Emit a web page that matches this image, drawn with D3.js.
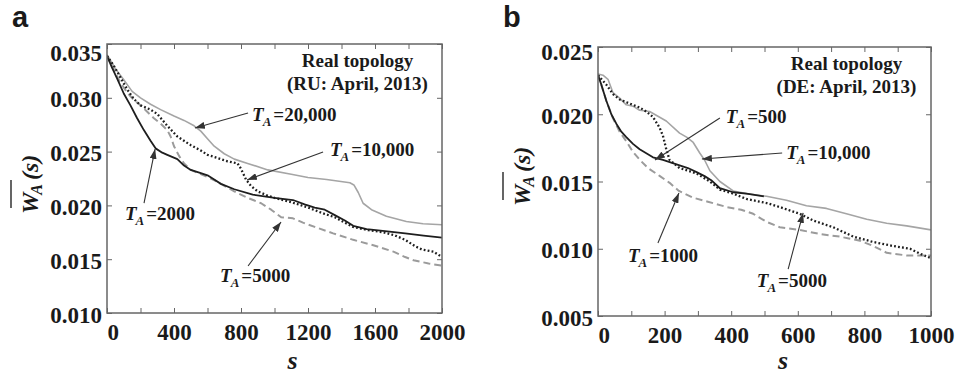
<!DOCTYPE html>
<html>
<head>
<meta charset="utf-8">
<script src="https://cdn.jsdelivr.net/npm/d3@7"></script>
<style>
  body { margin: 0; background: #fff; }
  svg { display: block; }
  text { font-family: "Liberation Serif", "Times New Roman", serif; font-weight: bold; fill: #1a1a1a; }
  text.letter { font-family: "Liberation Sans", Arial, sans-serif; }
</style>
</head>
<body>
<div id="chart"></div>
<script>
// ---- panel a : RU, April 2013 ----
const ruXLabels = [0, 400, 800, 1200, 1600, 2000];
const ruYTicks = [0.010, 0.015, 0.020, 0.025, 0.030, 0.035];

const ru2000 = [[0,0.0339],[30,0.0328],[60,0.0318],[100,0.0304],[140,0.0293],[180,0.0281],[220,0.0270],[260,0.0260],[290,0.0253],[330,0.0249],[360,0.0247],[420,0.0243],[460,0.0237],[500,0.0233],[560,0.0230],[600,0.0228],[640,0.0224],[680,0.0220],[760,0.0215],[870,0.0210],[1000,0.0207],[1110,0.0205],[1180,0.0201],[1240,0.0198],[1300,0.0196],[1360,0.0191],[1420,0.0186],[1470,0.0181],[1550,0.0178],[1660,0.0176],[1780,0.0174],[1890,0.0172],[2000,0.0170]];
const ru5000 = [[0,0.0339],[40,0.0326],[80,0.0314],[120,0.0305],[160,0.0298],[200,0.0293],[240,0.0287],[280,0.0281],[320,0.0276],[360,0.0270],[380,0.0264],[400,0.0255],[430,0.0246],[460,0.0239],[500,0.0233],[560,0.0229],[620,0.0225],[680,0.0220],[760,0.0213],[840,0.0207],[920,0.0202],[980,0.0196],[1040,0.0189],[1110,0.0188],[1170,0.0184],[1240,0.0180],[1350,0.0174],[1470,0.0168],[1590,0.0163],[1710,0.0157],[1780,0.0152],[1830,0.0149],[1920,0.0146],[2000,0.0144]];
const ru10000 = [[0,0.0339],[40,0.0330],[80,0.0319],[120,0.0308],[160,0.0299],[200,0.0293],[260,0.0289],[300,0.0285],[360,0.0274],[420,0.0264],[460,0.0260],[500,0.0256],[560,0.0251],[600,0.0247],[660,0.0244],[720,0.0241],[780,0.0239],[800,0.0234],[830,0.0224],[860,0.0218],[900,0.0213],[960,0.0209],[1000,0.0207],[1100,0.0203],[1200,0.0198],[1300,0.0192],[1360,0.0189],[1420,0.0184],[1470,0.0180],[1560,0.0177],[1650,0.0175],[1720,0.0172],[1780,0.0168],[1840,0.0162],[1880,0.0159],[1950,0.0157],[2000,0.0152]];
const ru20000 = [[0,0.0340],[50,0.0327],[99,0.0317],[150,0.0306],[200,0.0300],[260,0.0294],[320,0.0289],[400,0.0283],[460,0.0279],[520,0.0274],[560,0.0269],[600,0.0262],[640,0.0255],[700,0.0248],[760,0.0243],[840,0.0239],[960,0.0233],[1100,0.0229],[1200,0.0226],[1311,0.0224],[1450,0.0221],[1474,0.0219],[1500,0.0212],[1529,0.0202],[1579,0.0196],[1668,0.0190],[1787,0.0185],[1887,0.0183],[2000,0.0182]];

const ruNotes = [
  { label: '20,000', at: [866, 0.02784], from: [842, 0.02859], to: [525, 0.02719] },
  { label: '10,000', at: [1331, 0.02459], from: [1290, 0.02496], to: [836, 0.02236] },
  { label: '2000', at: [107, 0.01864], from: [221, 0.02022], to: [287, 0.02524] },
  { label: '5000', at: [675, 0.01288], from: [842, 0.01437], to: [1039, 0.01846] }
];

// ---- panel b : DE, April 2013 ----
const deXLabels = [0, 200, 400, 600, 800, 1000];
const deYTicks = [0.005, 0.010, 0.015, 0.020, 0.025];

const de500 = [[0,0.0229],[10,0.0222],[25,0.0210],[40,0.0200],[55,0.0193],[70,0.0187],[85,0.0183],[105,0.0178],[125,0.0174],[145,0.0171],[165,0.0168],[195,0.0166],[220,0.0164],[245,0.0162],[270,0.0160],[296,0.0157],[320,0.0154],[340,0.0151],[366,0.0145],[406,0.0142],[446,0.0141],[498,0.0139]];
const de1000 = [[0,0.0230],[10,0.0222],[25,0.0210],[45,0.0197],[65,0.0187],[85,0.0180],[105,0.0172],[126,0.0166],[150,0.0160],[186,0.0154],[215,0.0149],[243,0.0143],[285,0.0138],[330,0.0135],[387,0.0131],[430,0.0129],[466,0.0126],[506,0.0120],[546,0.0116],[606,0.0114],[666,0.0111],[726,0.0109],[787,0.0106],[827,0.0102],[867,0.0097],[927,0.0095],[1000,0.0095]];
const de5000 = [[0,0.0229],[25,0.0222],[45,0.0215],[65,0.0211],[85,0.0209],[105,0.0207],[125,0.0205],[145,0.0202],[165,0.0198],[185,0.0190],[195,0.0184],[205,0.0174],[215,0.0166],[245,0.0160],[296,0.0156],[336,0.0150],[366,0.0144],[406,0.0141],[446,0.0137],[506,0.0134],[546,0.0131],[606,0.0126],[646,0.0121],[706,0.0116],[767,0.0109],[827,0.0105],[887,0.0102],[937,0.0100],[970,0.0096],[1000,0.0093]];
const de10000 = [[0,0.0230],[15,0.0229],[30,0.0226],[45,0.0216],[65,0.0212],[85,0.0207],[105,0.0206],[125,0.0203],[155,0.0202],[205,0.0195],[245,0.0186],[266,0.0183],[286,0.0179],[306,0.0171],[320,0.0166],[336,0.0158],[366,0.0150],[406,0.0143],[446,0.0141],[506,0.0139],[566,0.0136],[626,0.0132],[686,0.0130],[746,0.0126],[807,0.0122],[867,0.0119],[927,0.0117],[1000,0.0114]];

const deNotes = [
  { label: '500', at: [384, 0.01935], from: [366, 0.01972], to: [171, 0.01660] },
  { label: '10,000', at: [565, 0.01667], from: [553, 0.01712], to: [312, 0.01667] },
  { label: '1000', at: [90, 0.00901], from: [180, 0.01043], to: [243, 0.01414] },
  { label: '5000', at: [477, 0.00716], from: [571, 0.00849], to: [616, 0.01266] }
];

// line looks, same order in both panels: smallest T_A .. largest T_A
const styles = {
  solid:  { stroke: '#1e1e1e', width: 1.8, dash: null },
  dashed: { stroke: '#9b9b9b', width: 2, dash: '7,4' },
  dotted: { stroke: '#1e1e1e', width: 2.3, dash: '1.8,2.2' },
  gray:   { stroke: '#a5a5a5', width: 1.6, dash: null }
};

const svg = d3.select('#chart').append('svg')
    .attr('width', 955)
    .attr('height', 376);

svg.append('defs').append('marker')
    .attr('id', 'head')
    .attr('viewBox', '0 0 10 7')
    .attr('refX', 10).attr('refY', 3.5)
    .attr('markerWidth', 10).attr('markerHeight', 7)
    .attr('markerUnits', 'userSpaceOnUse')
    .attr('orient', 'auto')
    .append('path')
    .attr('d', 'M0,0L10,3.5L0,7Z')
    .attr('fill', '#333');

function drawPanel(p) {
    const x = d3.scaleLinear().domain([0, p.xMax]).range([p.left, p.right]);
    const y = d3.scaleLinear().domain([p.yMin, p.yMax]).range([p.bottom, p.top]);
    const g = svg.append('g');

    g.append('clipPath').attr('id', 'clip-' + p.id)
        .append('rect')
        .attr('x', p.left).attr('y', p.top)
        .attr('width', p.right - p.left).attr('height', p.bottom - p.top);

    const line = d3.line().x(d => x(d[0])).y(d => y(d[1]));

    p.series.forEach(s => {
        const st = styles[s.style];
        g.append('path')
            .datum(s.values)
            .attr('d', line)
            .attr('clip-path', 'url(#clip-' + p.id + ')')
            .attr('fill', 'none')
            .attr('stroke', st.stroke)
            .attr('stroke-width', st.width)
            .attr('stroke-dasharray', st.dash)
            .attr('stroke-linejoin', 'round');
    });

    // inward ticks on all four sides
    const minor = d3.range(0, p.xMax + 1, p.xMinorStep);
    const tickAxes = [
        [d3.axisBottom(x).tickValues(minor), `translate(0,${p.bottom})`],
        [d3.axisTop(x).tickValues(minor), `translate(0,${p.top})`],
        [d3.axisLeft(y).tickValues(p.yTicks), `translate(${p.left},0)`],
        [d3.axisRight(y).tickValues(p.yTicks), `translate(${p.right},0)`]
    ];
    tickAxes.forEach(([ax, tr]) => {
        const a = g.append('g').attr('transform', tr)
            .call(ax.tickSize(-5).tickFormat(''));
        a.select('.domain').remove();
        a.selectAll('line').attr('stroke', '#666').attr('stroke-width', 1);
    });

    g.append('rect')
        .attr('x', p.left).attr('y', p.top)
        .attr('width', p.right - p.left).attr('height', p.bottom - p.top)
        .attr('fill', 'none')
        .attr('stroke', '#666')
        .attr('stroke-width', 1.5);

    // tick labels
    const xl = g.append('g').attr('transform', `translate(0,${p.bottom})`)
        .call(d3.axisBottom(x).tickValues(p.xLabels).tickSize(0).tickPadding(11).tickFormat(d3.format('d')));
    xl.select('.domain').remove();
    xl.selectAll('text')
        .attr('font-family', null).attr('font-size', 23).attr('fill', '#1a1a1a')
        .attr('text-anchor', d => d === 0 ? 'start' : 'middle');

    const yl = g.append('g').attr('transform', `translate(${p.left},0)`)
        .call(d3.axisLeft(y).tickValues(p.yTicks).tickSize(0).tickPadding(5).tickFormat(d3.format('.3f')));
    yl.select('.domain').remove();
    yl.selectAll('text')
        .attr('font-family', null).attr('font-size', 23).attr('fill', '#1a1a1a')
        .attr('dy', d => (d === p.yMax ? 9 + p.topShift : 9) + 'px');

    // axis titles
    g.append('text')
        .attr('x', p.sLabelX).attr('y', 369)
        .attr('font-size', 26).attr('font-style', 'italic')
        .attr('text-anchor', 'middle')
        .text('s');

    const yt = g.append('g').attr('transform', `translate(${p.yLabelAt[0]},${p.yLabelAt[1]}) rotate(-90)`);
    const t = yt.append('text').attr('font-size', 24).attr('font-style', 'italic');
    t.append('tspan').text('W');
    t.append('tspan').attr('font-size', 16).attr('dy', 4).attr('dx', -2).text('A');
    t.append('tspan').attr('dy', -4).attr('dx', 4).text('(s)');
    yt.append('line')
        .attr('x1', 6).attr('x2', 34).attr('y1', -27).attr('y2', -27)
        .attr('stroke', '#555').attr('stroke-width', 1.8);

    // panel letter and note
    g.append('text')
        .attr('class', 'letter')
        .attr('x', p.letterX).attr('y', 27)
        .attr('font-size', 29)
        .text(p.id);

    g.append('text')
        .attr('x', p.right - 84.5).attr('y', p.top + 23)
        .attr('text-anchor', 'middle').attr('font-size', 19)
        .text('Real topology');
    g.append('text')
        .attr('x', p.right - 84.5).attr('y', p.top + 46)
        .attr('text-anchor', 'middle').attr('font-size', 19)
        .text(`(${p.region}: April, 2013)`);

    // T_A call-outs with arrows
    p.notes.forEach(n => {
        g.append('line')
            .attr('x1', x(n.from[0])).attr('y1', y(n.from[1]))
            .attr('x2', x(n.to[0])).attr('y2', y(n.to[1]))
            .attr('stroke', '#333')
            .attr('stroke-width', 1.1)
            .attr('marker-end', 'url(#head)');
        const lab = g.append('text')
            .attr('x', x(n.at[0])).attr('y', y(n.at[1]))
            .attr('font-size', 19);
        lab.append('tspan').attr('font-style', 'italic').text('T');
        lab.append('tspan').attr('font-style', 'italic').attr('font-size', 13)
            .attr('dy', 5).attr('dx', -1).text('A');
        lab.append('tspan').attr('dy', -5).attr('dx', 2).text('=' + n.label);
    });
}

drawPanel({
    id: 'a', region: 'RU',
    left: 107, right: 442, top: 44, bottom: 313,
    xMax: 2000, xMinorStep: 200, xLabels: ruXLabels,
    yMin: 0.010, yMax: 0.035, yTicks: ruYTicks, topShift: 7,
    series: [
        { values: ru20000, style: 'gray' },
        { values: ru5000, style: 'dashed' },
        { values: ru10000, style: 'dotted' },
        { values: ru2000, style: 'solid' }
    ],
    notes: ruNotes,
    letterX: 12, sLabelX: 292.5, yLabelAt: [38, 214]
});

drawPanel({
    id: 'b', region: 'DE',
    left: 598, right: 931, top: 47, bottom: 316,
    xMax: 1000, xMinorStep: 100, xLabels: deXLabels,
    yMin: 0.005, yMax: 0.025, yTicks: deYTicks, topShift: 3,
    series: [
        { values: de10000, style: 'gray' },
        { values: de1000, style: 'dashed' },
        { values: de5000, style: 'dotted' },
        { values: de500, style: 'solid' }
    ],
    notes: deNotes,
    letterX: 503, sLabelX: 783, yLabelAt: [530, 206]
});
</script>
</body>
</html>
